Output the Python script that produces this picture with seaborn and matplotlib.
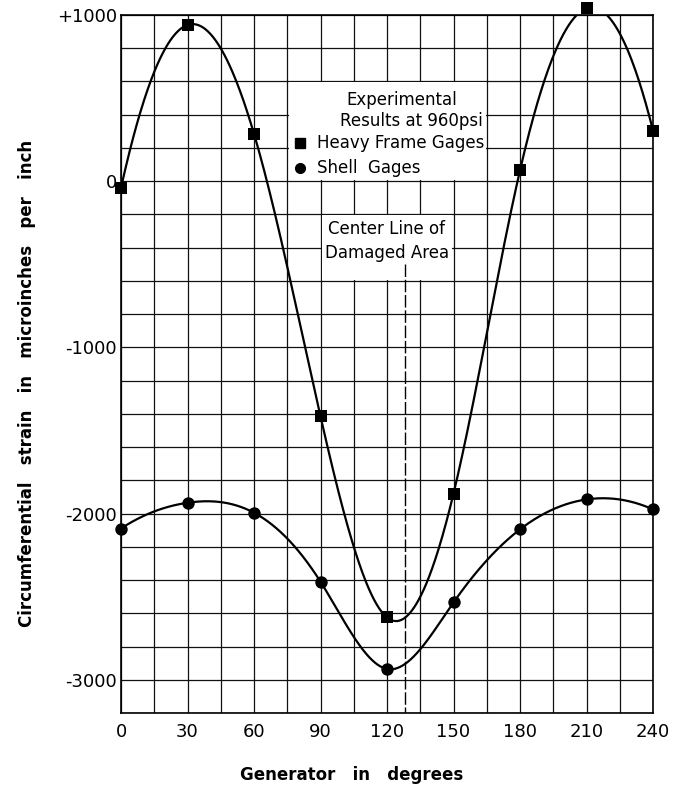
import numpy as np
import pandas as pd
import matplotlib
matplotlib.use("Agg")
import matplotlib.pyplot as plt
from matplotlib.patches import Rectangle
from matplotlib.lines import Line2D
import seaborn as sns

# Gage positions around the frame (degrees)
generator_deg = [0, 30, 60, 90, 120, 150, 180, 210, 240]
# Measured circumferential strain, microinches per inch
heavy_frame_strain = [-40, 940, 285, -1415, -2625, -1880, 65, 1040, 305]
shell_strain = [-2090, -1935, -1995, -2410, -2935, -2535, -2095, -1915, -1975]

x_tick_values = [0, 30, 60, 90, 120, 150, 180, 210, 240]
x_tick_labels = ["0", "30", "60", "90", "120", "150", "180", "210", "240"]
y_tick_values = [-3000, -2000, -1000, 0, 1000]
y_tick_labels = ["-3000", "-2000", "-1000", "0", "+1000"]

damaged_area_center_deg = 128


def clamped_cubic_spline(x, y, xs):
    """Cubic spline through (x, y); end slopes taken from the three-point
    parabola through the outermost points."""
    x = np.asarray(x, float)
    y = np.asarray(y, float)
    n = len(x)
    h = np.diff(x)
    delta = np.diff(y) / h
    m_start = ((2 * h[0] + h[1]) * delta[0] - h[0] * delta[1]) / (h[0] + h[1])
    m_end = ((2 * h[-1] + h[-2]) * delta[-1] - h[-1] * delta[-2]) / (h[-1] + h[-2])
    A = np.zeros((n, n))
    r = np.zeros(n)
    A[0, 0], A[0, 1] = 2 * h[0], h[0]
    r[0] = 3 * (delta[0] - m_start)
    A[-1, -2], A[-1, -1] = h[-1], 2 * h[-1]
    r[-1] = 3 * (m_end - delta[-1])
    for i in range(1, n - 1):
        A[i, i - 1] = h[i - 1]
        A[i, i] = 2 * (h[i - 1] + h[i])
        A[i, i + 1] = h[i]
        r[i] = 3 * (delta[i] - delta[i - 1])
    c = np.linalg.solve(A, r)
    b = delta - h * (2 * c[:-1] + c[1:]) / 3
    d = (c[1:] - c[:-1]) / (3 * h)
    idx = np.clip(np.searchsorted(x, xs) - 1, 0, n - 2)
    dx = xs - x[idx]
    return y[idx] + b[idx] * dx + c[idx] * dx ** 2 + d[idx] * dx ** 3


sns.set_style("white")
plt.rcParams.update({
    "font.family": ["DejaVu Sans"],
    "text.color": "black",
    "axes.labelcolor": "black",
    "xtick.color": "black",
    "ytick.color": "black",
})

fig = plt.figure(figsize=(6.77, 7.92), dpi=100)
ax = fig.add_axes([121 / 677, 1 - 713 / 792, 532 / 677, 698 / 792])

# Smooth fitted curves
xs = np.linspace(generator_deg[0], generator_deg[-1], 600)
curves = pd.concat([
    pd.DataFrame({"deg": xs, "strain": clamped_cubic_spline(generator_deg, heavy_frame_strain, xs),
                  "series": "Heavy Frame Gages"}),
    pd.DataFrame({"deg": xs, "strain": clamped_cubic_spline(generator_deg, shell_strain, xs),
                  "series": "Shell Gages"}),
])
points_heavy = pd.DataFrame({"deg": generator_deg, "strain": heavy_frame_strain})
points_shell = pd.DataFrame({"deg": generator_deg, "strain": shell_strain})

sns.lineplot(data=curves, x="deg", y="strain", units="series", estimator=None,
             color="black", linewidth=1.6, sort=False, ax=ax, zorder=4, legend=False)
sns.scatterplot(data=points_heavy, x="deg", y="strain", marker="s", s=70,
                color="black", edgecolor="black", linewidth=0, ax=ax, zorder=5, clip_on=False)
sns.scatterplot(data=points_shell, x="deg", y="strain", marker="o", s=80,
                color="black", edgecolor="black", linewidth=0, ax=ax, zorder=5, clip_on=False)

ax.set_xlim(0, 240)
ax.set_ylim(-3200, 1000)

# Graph-paper grid
ax.set_xticks(x_tick_values)
ax.set_xticklabels(x_tick_labels)
ax.set_xticks(np.arange(0, 241, 15), minor=True)
ax.set_yticks(y_tick_values)
ax.set_yticklabels(y_tick_labels)
ax.set_yticks(np.arange(-3200, 1001, 200), minor=True)
ax.grid(True, which="both", color="#111111", linewidth=0.9)
ax.set_axisbelow(True)
ax.tick_params(which="both", length=0)
ax.tick_params(axis="x", pad=7, labelsize=13)
ax.tick_params(axis="y", pad=3, labelsize=13)
for sp in ax.spines.values():
    sp.set_visible(True)
    sp.set_color("black")
    sp.set_linewidth(1.2)
ax.set_xlabel("")
ax.set_ylabel("")

# Blank panels behind the annotations
ax.add_patch(Rectangle((75.6, 6), 89.0, 588, facecolor="white", edgecolor="none", zorder=1.5))
ax.add_patch(Rectangle((90.6, -594), 58.8, 388, facecolor="white", edgecolor="none", zorder=1.5))

# Key
ax.text(0.528, 0.878, "Experimental", transform=ax.transAxes, ha="center", va="center",
        fontsize=12, zorder=6)
ax.text(0.545, 0.848, "Results at 960psi", transform=ax.transAxes, ha="center", va="center",
        fontsize=12, zorder=6)
ax.add_line(Line2D([0.337], [0.817], transform=ax.transAxes, marker="s", markersize=7,
                   color="black", linestyle="none", zorder=6))
ax.text(0.368, 0.817, "Heavy Frame Gages", transform=ax.transAxes, ha="left", va="center",
        fontsize=12, zorder=6, bbox=dict(facecolor="white", edgecolor="none", pad=1))
ax.add_line(Line2D([0.337], [0.781], transform=ax.transAxes, marker="o", markersize=7,
                   color="black", linestyle="none", zorder=6))
ax.text(0.368, 0.781, "Shell  Gages", transform=ax.transAxes, ha="left", va="center",
        fontsize=12, zorder=6)

# Damaged area centre line
ax.plot([damaged_area_center_deg, damaged_area_center_deg], [-500, -3200], color="black",
        linewidth=1.0, dashes=(9, 2), zorder=3)
ax.text(0.5, 0.693, "Center Line of", transform=ax.transAxes, ha="center", va="center",
        fontsize=12, zorder=6)
ax.text(0.5, 0.659, "Damaged Area", transform=ax.transAxes, ha="center", va="center",
        fontsize=12, zorder=6)

# Axis titles
fig.text(352 / 677, 1 - 775 / 792, "Generator   in   degrees", ha="center", va="center",
         fontsize=12, fontweight="bold")
fig.text(27 / 677, 1 - 383 / 792, "Circumferential   strain   in   microinches   per   inch",
         ha="center", va="center", rotation=90, fontsize=12, fontweight="bold")

fig.savefig("out.png", dpi=100, facecolor="white")
